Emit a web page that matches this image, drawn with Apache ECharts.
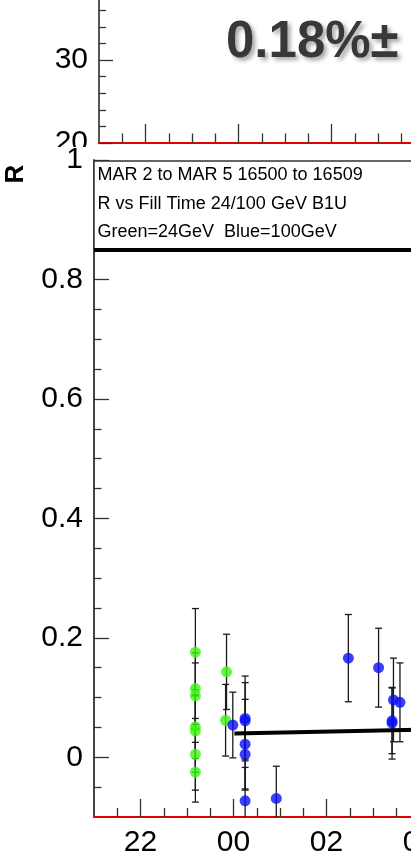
<!DOCTYPE html>
<html>
<head>
<meta charset="utf-8">
<script src="https://cdn.jsdelivr.net/npm/echarts@6/dist/echarts.min.js"></script>
<style>
html,body{margin:0;padding:0;background:#fff;width:411px;height:856px;overflow:hidden;}
#top{position:absolute;left:0;top:0;width:411px;height:147px;overflow:hidden;}
#topIn{position:absolute;left:0;top:-40px;width:700px;height:187px;}
#bot{position:absolute;left:0;top:147px;width:411px;height:709px;overflow:hidden;}
#botIn{position:absolute;left:0;top:0;width:700px;height:760px;}
</style>
</head>
<body>
<div id="top"><div id="topIn"></div></div>
<div id="bot"><div id="botIn"></div></div>
<script>
// ---- data ----
const headline = '0.18%\u00b1';
const boxLines = ['MAR 2 to MAR 5 16500 to 16509', 'R vs Fill Time 24/100 GeV B1U', 'Green=24GeV  Blue=100GeV'];
const yName = 'R';

const xMajor = [22, 24, 26, 28, 30, 32];
const xMinor = [21.5, 22.5, 23, 23.5, 24.5, 25, 25.5, 26.5, 27, 27.5, 28.5, 29, 29.5, 30.5, 31, 31.5, 32.5];
const yMajor = [0, 0.2, 0.4, 0.6, 0.8, 1];
const yMinor = [-0.05, 0.05, 0.1, 0.15, 0.25, 0.3, 0.35, 0.45, 0.5, 0.55, 0.65, 0.7, 0.75, 0.85, 0.9, 0.95];

const greenT = [23.18, 23.18, 23.18, 23.18, 23.18, 23.18, 23.18, 23.85, 23.83];
const greenR = [0.176, 0.115, 0.103, 0.051, 0.044, 0.005, -0.025, 0.143, 0.062];
const greenE = [0.073, 0.060, 0.055, 0.053, 0.069, 0.060, 0.050, 0.063, 0.060];

const blueT = [23.985, 24.25, 24.25, 24.25, 24.25, 24.25, 24.92, 26.47, 27.12, 27.44, 27.58, 27.41, 27.41];
const blueR = [0.054, 0.065, 0.061, 0.022, 0.005, -0.073, -0.069, 0.166, 0.150, 0.096, 0.092, 0.061, 0.057];
const blueE = [0.055, 0.071, 0.064, 0.075, 0.060, 0.056, 0.054, 0.073, 0.066, 0.070, 0.066, 0.055, 0.060];

const fitT = [24.02, 28.2];
const fitR = [0.0397, 0.0467];
const boxLineR = 0.85;

// ---- helpers ----
const FONT = "'Liberation Sans', Arial, sans-serif";
const YMIN = -0.1, YMAX = 1;
const fmtHour = v => String(((Math.round(v) % 24) + 24) % 24).padStart(2, '0');

function errBars(t, r, e) {
  return {
    type: 'custom',
    xAxisIndex: 0, yAxisIndex: 0,
    clip: true,
    z: 2,
    silent: true,
    encode: {x: 0, y: 1},
    data: t.map((x, i) => [x, r[i], e[i]]),
    renderItem: function (params, api) {
      const x = api.value(0), v = api.value(1), er = api.value(2);
      const hi = v + er, lo = v - er;
      const hiC = Math.min(hi, YMAX), loC = Math.max(lo, YMIN);
      const p1 = api.coord([x, hiC]);
      const p2 = api.coord([x, loC]);
      const st = {stroke: '#1a1a1a', lineWidth: 1.3};
      const ch = [{type: 'line', shape: {x1: p1[0], y1: p1[1], x2: p2[0], y2: p2[1]}, style: st}];
      if (hi <= YMAX) ch.push({type: 'line', shape: {x1: p1[0] - 3.5, y1: p1[1], x2: p1[0] + 3.5, y2: p1[1]}, style: st});
      if (lo >= YMIN) ch.push({type: 'line', shape: {x1: p2[0] - 3.5, y1: p2[1], x2: p2[0] + 3.5, y2: p2[1]}, style: st});
      return {type: 'group', children: ch};
    }
  };
}

// ---- top panel ----
const topChart = echarts.init(document.getElementById('topIn'), null, {renderer: 'canvas', width: 700, height: 187});
topChart.setOption({
  animation: false,
  title: {
    text: headline, left: 226, top: 57, padding: 0,
    textStyle: {
      fontFamily: FONT, fontWeight: 'bold', fontSize: 51, color: '#383838',
      textShadowColor: 'rgba(0,0,0,0.35)', textShadowBlur: 4, textShadowOffsetX: 3, textShadowOffsetY: 3
    }
  },
  grid: {left: 99, top: 17, width: 558, height: 166, outerBoundsMode: 'none'},
  xAxis: [
    {type: 'value', min: 21, max: 33, position: 'bottom',
     axisLine: {show: true, onZero: false, lineStyle: {color: '#e00000', width: 2}},
     axisTick: {show: true, inside: true, length: 19, customValues: xMajor, lineStyle: {color: '#333', width: 1.3}},
     axisLabel: {show: false}, splitLine: {show: false}},
    {type: 'value', min: 21, max: 33, position: 'bottom',
     axisLine: {show: false, onZero: false},
     axisTick: {show: true, inside: true, length: 9.5, customValues: xMinor, lineStyle: {color: '#333', width: 1.3}},
     axisLabel: {show: false}, splitLine: {show: false}}
  ],
  yAxis: {
    type: 'value', min: 20, max: 40, interval: 10,
    axisLine: {show: true, onZero: false, lineStyle: {color: '#555', width: 2}},
    axisTick: {show: true, inside: true, length: 14, lineStyle: {color: '#333', width: 1.3}},
    minorTick: {show: true, splitNumber: 5, length: 7, lineStyle: {color: '#333', width: 1.3}},
    axisLabel: {fontFamily: FONT, fontSize: 30, color: '#000', margin: 11, padding: [4, 0, 0, 0]},
    splitLine: {show: false}
  },
  series: [{type: 'scatter', data: []}]
});

// ---- bottom panel ----
const botChart = echarts.init(document.getElementById('botIn'), null, {renderer: 'canvas', width: 700, height: 760});
botChart.setOption({
  animation: false,
  grid: {left: 94, top: 13, width: 558, height: 657, outerBoundsMode: 'none'},
  xAxis: [
    {type: 'value', min: 21, max: 33, position: 'bottom',
     axisLine: {show: true, onZero: false, lineStyle: {color: '#e00000', width: 2}},
     axisTick: {show: true, inside: true, length: 18, customValues: xMajor, lineStyle: {color: '#333', width: 1.3}},
     axisLabel: {show: true, customValues: xMajor, formatter: fmtHour, fontFamily: FONT, fontSize: 30, color: '#000', margin: 11},
     splitLine: {show: false}},
    {type: 'value', min: 21, max: 33, position: 'bottom',
     axisLine: {show: false, onZero: false},
     axisTick: {show: true, inside: true, length: 9, customValues: xMinor, lineStyle: {color: '#333', width: 1.3}},
     axisLabel: {show: false}, splitLine: {show: false}}
  ],
  yAxis: [
    {type: 'value', min: YMIN, max: YMAX, position: 'left',
     axisLine: {show: true, onZero: false, lineStyle: {color: '#444', width: 2}},
     axisTick: {show: true, inside: true, length: 15, customValues: yMajor, lineStyle: {color: '#333', width: 1.3}},
     axisLabel: {show: true, customValues: yMajor, formatter: v => String(+v.toFixed(2)), fontFamily: FONT, fontSize: 30, color: '#000', margin: 11, padding: [4, 0, 0, 0]},
     splitLine: {show: false}},
    {type: 'value', min: YMIN, max: YMAX, position: 'left',
     axisLine: {show: false, onZero: false},
     axisTick: {show: true, inside: true, length: 7.5, customValues: yMinor, lineStyle: {color: '#333', width: 1.3}},
     axisLabel: {show: false}, splitLine: {show: false}}
  ],
  graphic: [
    {type: 'rect', z: 1, shape: {x: 94, y: 14, width: 600, height: 88},
     style: {fill: '#fff', stroke: '#333', lineWidth: 1.5}},
    {type: 'text', z: 2, style: {text: boxLines[0], x: 97.5, y: 28, font: '18px ' + FONT, fill: '#000', textVerticalAlign: 'middle'}},
    {type: 'text', z: 2, style: {text: boxLines[1], x: 97.5, y: 57, font: '18px ' + FONT, fill: '#000', textVerticalAlign: 'middle'}},
    {type: 'text', z: 2, style: {text: boxLines[2], x: 97.5, y: 85.5, font: '18px ' + FONT, fill: '#000', textVerticalAlign: 'middle'}},
    {type: 'text', z: 2, x: 16, y: 27, rotation: Math.PI / 2,
     style: {text: yName, x: 0, y: 0, font: 'bold 26px ' + FONT, fill: '#000', textAlign: 'center', textVerticalAlign: 'middle'}}
  ],
  series: [
    errBars(greenT, greenR, greenE),
    errBars(blueT, blueR, blueE),
    {type: 'scatter', xAxisIndex: 0, yAxisIndex: 0, z: 3, symbol: 'circle', symbolSize: 11,
     itemStyle: {color: '#3cf514'}, data: greenT.map((t, i) => [t, greenR[i]])},
    {type: 'scatter', xAxisIndex: 0, yAxisIndex: 0, z: 3, symbol: 'circle', symbolSize: 11,
     itemStyle: {color: '#0a10f5'}, data: blueT.map((t, i) => [t, blueR[i]])},
    {type: 'line', xAxisIndex: 0, yAxisIndex: 0, z: 4, symbol: 'none',
     lineStyle: {color: '#000', width: 4}, data: fitT.map((t, i) => [t, fitR[i]]),
     markLine: {silent: true, symbol: 'none', label: {show: false},
       lineStyle: {color: '#000', width: 4, type: 'solid'}, data: [{yAxis: boxLineR}]}}
  ]
});
</script>
</body>
</html>
